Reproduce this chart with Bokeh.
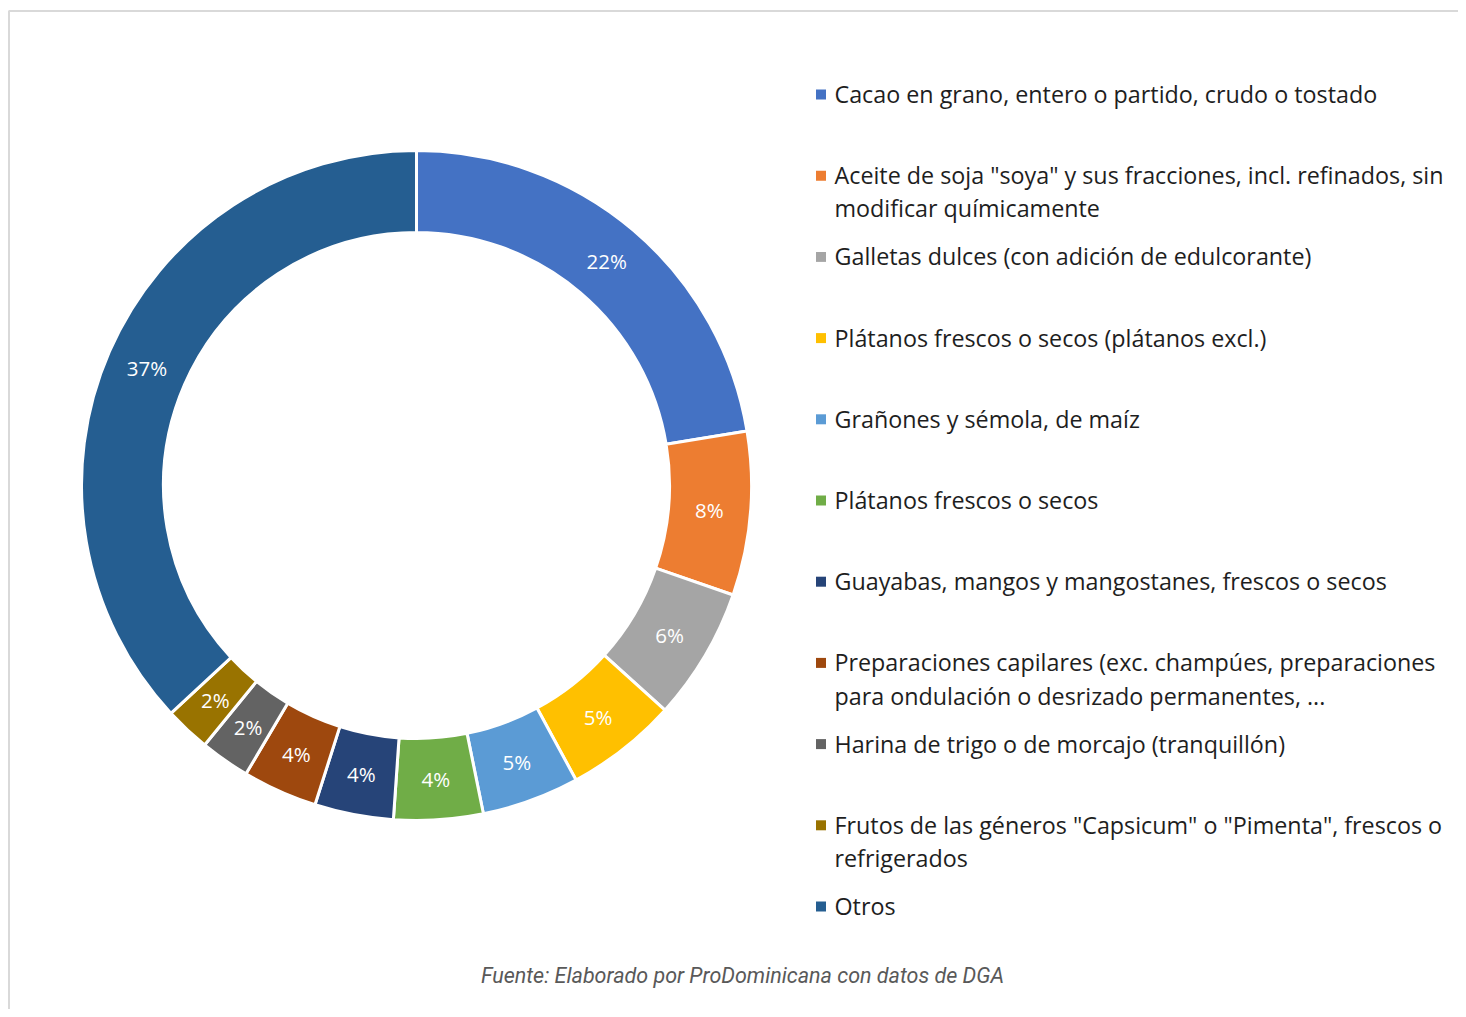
import math
from bokeh.plotting import figure
from bokeh.models import Range1d, ColumnDataSource
from bokeh.core.properties import value
from bokeh.embed import file_html
from bokeh.resources import INLINE

# ---- data ----
categories = [
    "Cacao en grano, entero o partido, crudo o tostado",
    "Aceite de soja \"soya\" y sus fracciones, incl. refinados, sin\nmodificar químicamente",
    "Galletas dulces (con adición de edulcorante)",
    "Plátanos frescos o secos (plátanos excl.)",
    "Grañones y sémola, de maíz",
    "Plátanos frescos o secos",
    "Guayabas, mangos y mangostanes, frescos o secos",
    "Preparaciones capilares (exc. champúes, preparaciones\npara ondulación o desrizado permanentes, ...",
    "Harina de trigo o de morcajo (tranquillón)",
    "Frutos de las géneros \"Capsicum\" o \"Pimenta\", frescos o\nrefrigerados",
    "Otros",
]
shares = [22.4, 7.9, 6.4, 5.4, 4.7, 4.3, 3.8, 3.6, 2.4, 2.2, 36.9]
colors = ["#4472C4", "#ED7D31", "#A5A5A5", "#FFC000", "#5B9BD5", "#70AD47",
          "#264478", "#9E480E", "#636363", "#997300", "#255E91"]
source_note = "Fuente: Elaborado por ProDominicana con datos de DGA"

W, H = 1458, 1009
OFF = 0  # figure origin on the page


def px(x):
    return x - OFF


def py(y):
    return H - (y - OFF)


p = figure(width=W, height=H, output_backend="svg", toolbar_location=None,
           x_range=Range1d(0, W), y_range=Range1d(0, H), min_border=0,
           outline_line_color=None, background_fill_color="white")
p.axis.visible = False
p.grid.visible = False

# frame (top and left edges visible)
p.line(x=[px(8.5), px(8.5), W], y=[0, py(10.5), py(10.5)], line_color="#D9D9D9", line_width=2)

# donut
cx, cy = px(416), py(485)
r_out, r_in = 335, 253
total = sum(shares)
starts, ends, mids = [], [], []
cum = 0.0
for s in shares:
    a0 = math.pi / 2 - 2 * math.pi * (cum + s) / total
    a1 = math.pi / 2 - 2 * math.pi * cum / total
    starts.append(a0)
    ends.append(a1)
    mids.append((a0 + a1) / 2)
    cum += s
src = ColumnDataSource(dict(start=starts, end=ends, color=colors))
p.annular_wedge(x=cx, y=cy, inner_radius=r_in, outer_radius=r_out,
                start_angle="start", end_angle="end", fill_color="color",
                line_color="white", line_width=3, source=src)

r_lab = (r_out + r_in) / 2
lab_src = ColumnDataSource(dict(
    x=[cx + r_lab * math.cos(m) for m in mids],
    y=[cy + r_lab * math.sin(m) for m in mids],
    t=[f"{round(s / total * 100)}%" for s in shares],
))
p.text(x="x", y="y", text="t", source=lab_src, text_color="white",
       text_font=value("Open Sans"), text_font_size="20.5px",
       text_align="center", text_baseline="middle")

# legend
leg_y0, leg_step = 95, 81.2
ly = [py(leg_y0 + i * leg_step) for i in range(len(categories))]
p.scatter(x=[px(820.5)] * len(categories), y=[y + 1 for y in ly], marker="square",
          size=10, fill_color=colors, line_color=None)
p.text(x=[px(834)] * len(categories), y=[y + 17.5 for y in ly], text=categories,
       text_color="#1E1E1E", text_font=value("Open Sans"), text_font_size="23.3px",
       text_align="left", text_baseline="top", text_line_height=1.04)

# source note
p.text(x=[px(742)], y=[py(975)], text=[source_note], text_color="#595959",
       text_font=value("Roboto"), text_font_style="italic", text_font_size="21.5px",
       text_align="center", text_baseline="middle")

open("out.html", "w").write(file_html(p, INLINE))
